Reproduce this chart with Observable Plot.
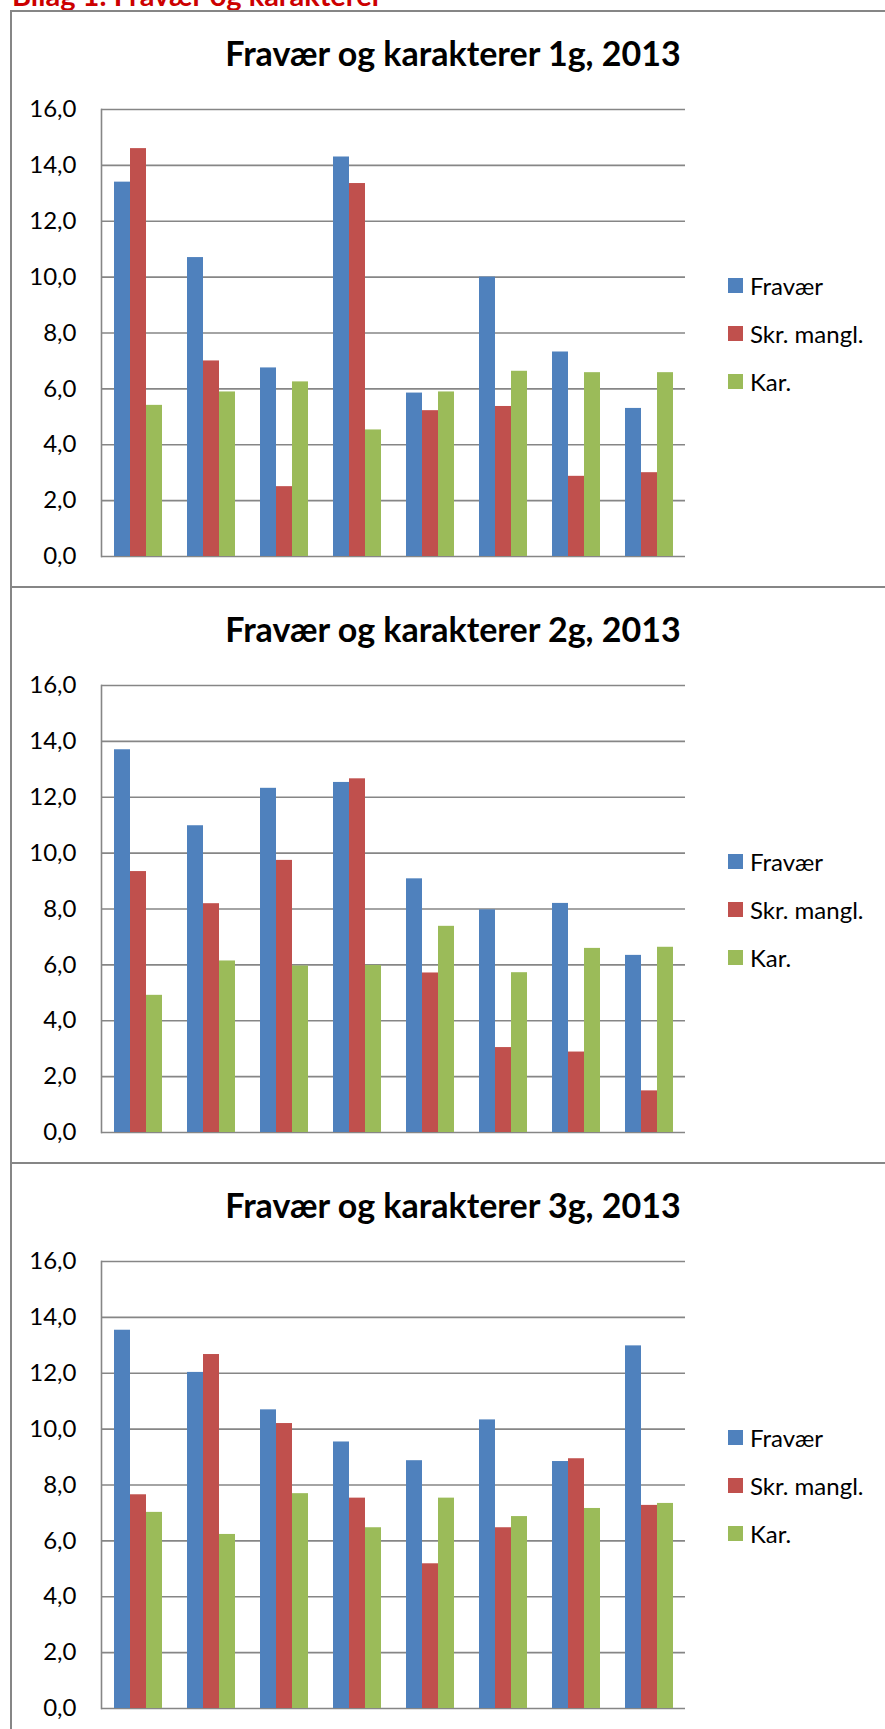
<!DOCTYPE html>
<html>
<head>
<meta charset="utf-8">
<script src="https://cdn.jsdelivr.net/npm/d3@7"></script>
<script src="https://cdn.jsdelivr.net/npm/@observablehq/plot@0.6"></script>
<style>
  html, body { margin: 0; padding: 0; background: #fff; }
  body { width: 885px; height: 1729px; position: relative; overflow: hidden; font-family: Lato, "Open Sans", sans-serif; }
  .header { position: absolute; left: 12px; top: -20px; font-size: 29px; line-height: 1; font-weight: bold; color: #cc0000; white-space: nowrap; }
  .panel { position: absolute; left: 10px; width: 900px; height: 576px; box-shadow: inset 2px 2px 0 0 #868686; }
  .title { position: absolute; left: 0; width: 886px; top: 24px; text-align: center; font-size: 34px; font-weight: bold; line-height: 38px; color: #000; }
  .chart { position: absolute; left: -10px; top: 80px; }
  .legend { position: absolute; left: 718px; top: 260px; }
  .legend .item { position: absolute; left: 0; height: 30px; display: flex; align-items: center; white-space: nowrap; font-size: 24px; color: #000; }
  .legend .sw { width: 15px; height: 15px; margin-right: 7px; }
</style>
</head>
<body>
<div class="header">Bilag 1: Fravær og karakterer</div>
<div id="root"></div>
<script>
// ---- data ----
const titles = ["Fravær og karakterer 1g, 2013", "Fravær og karakterer 2g, 2013", "Fravær og karakterer 3g, 2013"];
const seriesNames = ["Fravær", "Skr. mangl.", "Kar."];
const seriesColors = ["#4F81BD", "#C0504D", "#9BBB59"];
const categories = ["1", "2", "3", "4", "5", "6", "7", "8"];
const yTicks = [0, 2, 4, 6, 8, 10, 12, 14, 16];

const fravaer1g = [13.4, 10.7, 6.75, 14.3, 5.85, 10.0, 7.32, 5.3];
const skr1g     = [14.6, 7.0, 2.5, 13.35, 5.22, 5.37, 2.87, 3.0];
const kar1g     = [5.41, 5.89, 6.25, 4.53, 5.89, 6.63, 6.58, 6.58];

const fravaer2g = [13.7, 10.98, 12.32, 12.53, 9.08, 7.97, 8.2, 6.34];
const skr2g     = [9.34, 8.19, 9.74, 12.66, 5.71, 3.04, 2.88, 1.49];
const kar2g     = [4.91, 6.14, 5.96, 5.98, 7.38, 5.72, 6.59, 6.63];

const fravaer3g = [13.54, 12.03, 10.69, 9.54, 8.87, 10.33, 8.84, 12.98];
const skr3g     = [7.65, 12.67, 10.2, 7.53, 5.18, 6.47, 8.94, 7.27];
const kar3g     = [7.02, 6.23, 7.69, 6.47, 7.53, 6.87, 7.16, 7.34];

const panels = [
  [fravaer1g, skr1g, kar1g],
  [fravaer2g, skr2g, kar2g],
  [fravaer3g, skr3g, kar3g]
];

const fmt = d => d.toFixed(1).replace(".", ",");
const gridColor = "#868686";

const root = document.getElementById("root");
panels.forEach((seriesValues, p) => {
  const panel = document.createElement("div");
  panel.className = "panel";
  panel.style.top = (10 + p * 576) + "px";
  root.appendChild(panel);

  const t = document.createElement("div");
  t.className = "title";
  t.textContent = titles[p];
  panel.appendChild(t);

  const data = categories.flatMap((c, i) =>
    seriesNames.map((s, k) => ({cat: c, series: s, value: seriesValues[k][i]}))
  );

  const svg = Plot.plot({
    width: 700,
    height: 476,
    marginLeft: 99,
    marginRight: 14,
    marginTop: 19,
    marginBottom: 10,
    style: {background: "transparent", fontFamily: "Lato, sans-serif", color: "#000", overflow: "visible"},
    fx: {domain: categories, padding: 0, axis: null, label: null},
    x: {domain: seriesNames, paddingInner: 0, paddingOuter: 0.75, axis: null},
    y: {domain: [0, 16], axis: null},
    color: {domain: seriesNames, range: seriesColors},
    marks: [
      Plot.gridY(yTicks, {stroke: gridColor, strokeOpacity: 1, strokeWidth: 1.6}),
      Plot.barY(data, {fx: "cat", x: "series", y: "value", fill: "series"}),
      Plot.frame({anchor: "left", facetAnchor: "left", stroke: gridColor, strokeWidth: 1.6}),
      Plot.axisY(yTicks, {tickSize: 0, tickPadding: 25, tickFormat: fmt, fontSize: 24, label: null})
    ]
  });
  const holder = document.createElement("div");
  holder.className = "chart";
  holder.appendChild(svg);
  panel.appendChild(holder);

  const legend = document.createElement("div");
  legend.className = "legend";
  seriesNames.forEach((s, k) => {
    const item = document.createElement("div");
    item.className = "item";
    item.style.top = (k * 48) + "px";
    const sw = document.createElement("div");
    sw.className = "sw";
    sw.style.background = seriesColors[k];
    const lab = document.createElement("span");
    lab.textContent = s;
    item.appendChild(sw);
    item.appendChild(lab);
    legend.appendChild(item);
  });
  panel.appendChild(legend);
});
</script>
</body>
</html>
